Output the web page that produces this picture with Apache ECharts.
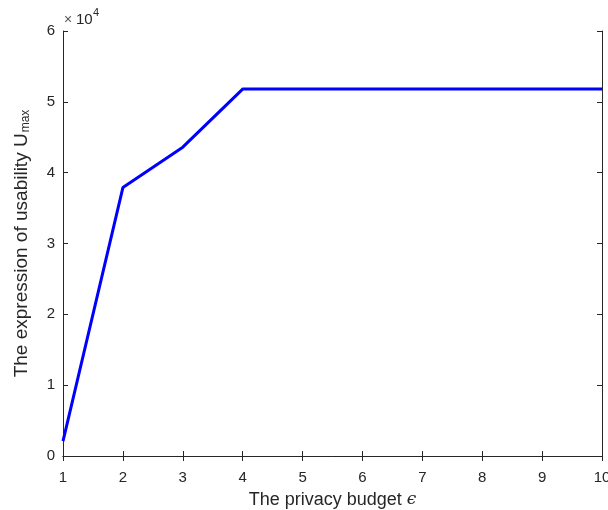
<!DOCTYPE html>
<html><head><meta charset="utf-8">
<script src="https://cdn.jsdelivr.net/npm/echarts@6/dist/echarts.min.js"></script>
<style>html,body{margin:0;padding:0;background:#fff}#c{width:608px;height:510px}</style>
</head><body><div id="c"></div>
<script>
var budget = [1, 2, 3, 4, 5, 6, 7, 8, 9, 10];
var usability = [2100, 37900, 43600, 51800, 51800, 51800, 51800, 51800, 51800, 51800];
var yTicks = [0, 1, 2, 3, 4, 5, 6];
var xTicks = [1, 2, 3, 4, 5, 6, 7, 8, 9, 10];

var axisColor = '#262626';
var font = 'Liberation Sans, Arial, sans-serif';
var chart = echarts.init(document.getElementById('c'));
var data = budget.map(function (b, i) { return [b, usability[i] / 1e4]; });
chart.setOption({
  animation: false,
  grid: { left: 63, top: 31, right: 6, bottom: 54, containLabel: false, outerBoundsMode: 'none' },
  xAxis: [{
    type: 'value', min: 1, max: 10, interval: 1,
    axisLine: { lineStyle: { color: axisColor, width: 1 } },
    axisTick: { inside: true, length: 5, lineStyle: { color: axisColor } },
    splitLine: { show: false },
    axisLabel: { color: axisColor, fontSize: 15, fontFamily: font, margin: 14,
      formatter: function (v) { return xTicks.indexOf(v) >= 0 ? String(v) : ''; } },
    name: '{n|The privacy budget }{e|ϵ}', nameLocation: 'middle', nameGap: 35,
    nameTextStyle: {
      color: axisColor, fontSize: 18, fontFamily: font,
      rich: {
        n: { fontSize: 18, color: axisColor, fontFamily: font },
        e: { fontSize: 17, color: axisColor, fontFamily: 'DejaVu Serif, serif', fontStyle: 'italic' }
      }
    }
  }, {
    type: 'value', min: 1, max: 10, interval: 1, position: 'top',
    axisLine: { show: true, lineStyle: { color: axisColor, width: 1 } },
    axisTick: { show: true, inside: true, length: 5, lineStyle: { color: axisColor } },
    axisLabel: { show: false }, splitLine: { show: false }
  }],
  yAxis: [{
    type: 'value', min: 0, max: 6, interval: 1,
    axisLine: { show: true, lineStyle: { color: axisColor, width: 1 } },
    axisTick: { show: true, inside: true, length: 5, lineStyle: { color: axisColor } },
    splitLine: { show: false },
    axisLabel: { color: axisColor, fontSize: 15, fontFamily: font, margin: 8,
      formatter: function (v) { return yTicks.indexOf(v) >= 0 ? String(v) : ''; } },
    name: '{n|The expression of usability }{u|U}{s|max}', nameLocation: 'middle', nameGap: 31,
    nameRotate: 90,
    nameTextStyle: {
      color: axisColor, fontFamily: font, fontSize: 19,
      rich: {
        n: { fontSize: 19, color: axisColor, fontFamily: font },
        u: { fontSize: 19, color: axisColor, fontFamily: font },
        s: { fontSize: 12, color: axisColor, fontFamily: font, verticalAlign: 'bottom', padding: [9, 0, 0, 1] }
      }
    }
  }, {
    type: 'value', min: 0, max: 6, interval: 1, position: 'right',
    axisLine: { show: true, lineStyle: { color: axisColor, width: 1 } },
    axisTick: { show: true, inside: true, length: 5, lineStyle: { color: axisColor } },
    axisLabel: { show: false }, splitLine: { show: false }
  }],
  graphic: [{
    type: 'text', left: 64, top: 13,
    style: { text: '×', fill: '#555555', font: '14px ' + font }
  }, {
    type: 'text', left: 76, top: 12,
    style: { text: '10', fill: axisColor, font: '15px ' + font }
  }, {
    type: 'text', left: 93, top: 7,
    style: { text: '4', fill: axisColor, font: '11px ' + font }
  }],
  series: [{
    type: 'line', data: data, xAxisIndex: 0, yAxisIndex: 0,
    showSymbol: false, symbol: 'none',
    lineStyle: { color: '#0000ff', width: 3 }
  }]
});
</script></body></html>
